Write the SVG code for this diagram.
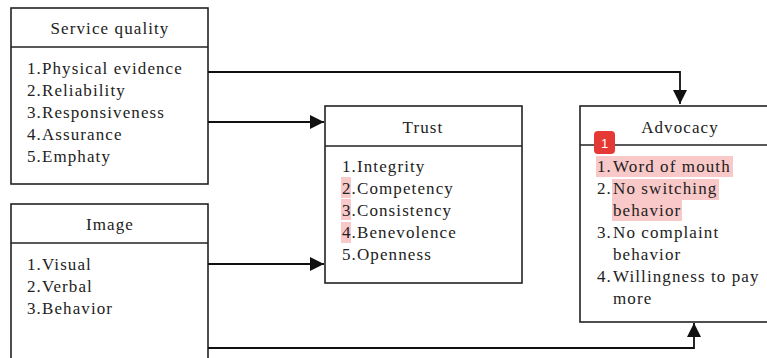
<svg xmlns="http://www.w3.org/2000/svg" width="767" height="358" viewBox="0 0 767 358">
<style>
.box{fill:#fff;stroke:#222;stroke-width:1.6}
.div{stroke:#222;stroke-width:1.6}
.t{font-family:"Liberation Serif","Times New Roman",Times,serif;font-size:17px;fill:#222;letter-spacing:1.1px}
.c{text-anchor:middle}
.conn{fill:none;stroke:#111;stroke-width:1.8}
.hl{fill:#f5a3a3;opacity:0.6}
</style>
<defs>
<marker id="ah" viewBox="0 0 10 10" refX="10" refY="5" markerWidth="14" markerHeight="14" markerUnits="userSpaceOnUse" orient="auto">
<path d="M0,0 L10,5 L0,10 z" fill="#111"/>
</marker>
</defs>
<g id="service-quality">
<rect class="box" x="11" y="8" width="197" height="176"/>
<line class="div" x1="11" y1="47" x2="208" y2="47"/>
<text class="t c" x="110" y="34">Service quality</text>
<text class="t" x="27" y="74">1.Physical evidence</text>
<text class="t" x="27" y="96">2.Reliability</text>
<text class="t" x="27" y="118">3.Responsiveness</text>
<text class="t" x="27" y="140">4.Assurance</text>
<text class="t" x="27" y="162">5.Emphaty</text>
</g>
<g id="image">
<rect class="box" x="11" y="204" width="197" height="170"/>
<line class="div" x1="11" y1="243" x2="208" y2="243"/>
<text class="t c" x="110" y="230">Image</text>
<text class="t" x="27" y="270">1.Visual</text>
<text class="t" x="27" y="292">2.Verbal</text>
<text class="t" x="27" y="314">3.Behavior</text>
</g>
<g id="trust">
<rect class="box" x="325" y="106" width="197" height="177"/>
<line class="div" x1="325" y1="146" x2="522" y2="146"/>
<rect class="hl" x="341" y="177" width="10" height="21"/>
<rect class="hl" x="341" y="199" width="10" height="21"/>
<rect class="hl" x="341" y="222" width="10" height="21"/>
<text class="t c" x="423" y="133">Trust</text>
<text class="t" x="342" y="172">1.Integrity</text>
<text class="t" x="342" y="194">2.Competency</text>
<text class="t" x="342" y="216">3.Consistency</text>
<text class="t" x="342" y="238">4.Benevolence</text>
<text class="t" x="342" y="260">5.Openness</text>
</g>
<g id="advocacy">
<rect class="box" x="580" y="106" width="200" height="216"/>
<line class="div" x1="580" y1="145" x2="780" y2="145"/>
<rect class="hl" x="596" y="156" width="137" height="21"/>
<rect class="hl" x="612" y="179" width="107" height="21"/>
<rect class="hl" x="612" y="200" width="70" height="21"/>
<text class="t c" x="680" y="133">Advocacy</text>
<text class="t" x="597" y="172">1.</text><text class="t" x="613" y="172">Word of mouth</text>
<text class="t" x="597" y="194">2.</text><text class="t" x="613" y="194">No switching</text>
<text class="t" x="613" y="216">behavior</text>
<text class="t" x="597" y="238">3.</text><text class="t" x="613" y="238">No complaint</text>
<text class="t" x="613" y="260">behavior</text>
<text class="t" x="597" y="282">4.</text><text class="t" x="613" y="282">Willingness to pay</text>
<text class="t" x="613" y="304">more</text>
</g>
<g id="badge">
<rect x="594" y="131" width="21" height="23" rx="4" fill="#e53935"/>
<text x="604.5" y="148" text-anchor="middle" font-family="Liberation Sans, sans-serif" font-size="13" fill="#fff">1</text>
</g>
<g id="connectors">
<path class="conn" d="M208,72 H680 V104" marker-end="url(#ah)"/>
<path class="conn" d="M208,122 H324" marker-end="url(#ah)"/>
<path class="conn" d="M208,264 H324" marker-end="url(#ah)"/>
<path class="conn" d="M208,348 H694 V323" marker-end="url(#ah)"/>
</g>
</svg>
